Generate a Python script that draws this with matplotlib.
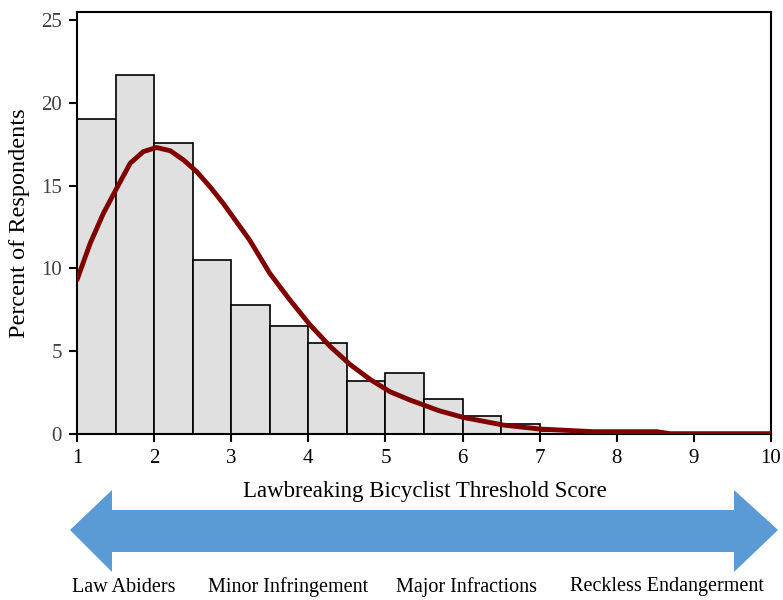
import matplotlib.pyplot as plt
from matplotlib.patches import Polygon

# histogram bins (left edges, width 0.5) and percent of respondents
bin_left = [1.0, 1.5, 2.0, 2.5, 3.0, 3.5, 4.0, 4.5, 5.0, 5.5, 6.0, 6.5, 7.0, 7.5]
percent = [19.0, 21.7, 17.6, 10.5, 7.8, 6.5, 5.5, 3.2, 3.7, 2.1, 1.1, 0.6, 0.2, 0.1]

# fitted curve
curve_x = [1.0, 1.17, 1.34, 1.51, 1.69, 1.86, 2.03, 2.21, 2.38, 2.55, 2.73, 2.90,
           3.07, 3.24, 3.50, 3.76, 4.02, 4.28, 4.54, 4.80, 5.06, 5.32, 5.70,
           6.01, 6.53, 7.0, 7.7, 8.52, 8.69, 10.0]
curve_y = [9.3, 11.5, 13.3, 14.8, 16.35, 17.05, 17.3, 17.1, 16.55, 15.85, 14.9, 13.9,
           12.8, 11.7, 9.7, 8.1, 6.6, 5.3, 4.2, 3.3, 2.55, 2.05, 1.4,
           1.0, 0.54, 0.3, 0.14, 0.14, 0.02, 0.02]

x_ticks = [1, 2, 3, 4, 5, 6, 7, 8, 9, 10]
y_ticks = [0, 5, 10, 15, 20, 25]
scale_labels = ["Law Abiders", "Minor Infringement", "Major Infractions", "Reckless Endangerment"]
scale_label_px = [124, 288, 467, 667]

FONT = "Liberation Serif"
W, H = 783, 600

fig = plt.figure(figsize=(W / 100, H / 100), dpi=100)
ax = fig.add_axes([77 / W, 1 - 434 / H, (771 - 77) / W, (434 - 12) / H])

ax.bar(bin_left, percent, width=0.5, align="edge", color="#e0e0e0",
       edgecolor="black", linewidth=1.2, zorder=2)
ax.plot(curve_x, curve_y, color="#800000", linewidth=3.5, zorder=3,
        solid_capstyle="round", solid_joinstyle="round")

ax.set_xlim(1, 10)
ax.set_ylim(0, 25.48)
ax.set_xticks(x_ticks)
ax.set_yticks(y_ticks)
ax.set_xticklabels([str(t) for t in x_ticks], fontfamily=FONT, fontsize=15)
ax.set_yticklabels([str(t) for t in y_ticks], fontfamily=FONT, fontsize=15, color="#404040")
ax.tick_params(direction="out", length=6, width=1.5, pad=5)
for s in ax.spines.values():
    s.set_linewidth(1.5)

ax.set_ylabel("Percent of Respondents", fontfamily=FONT, fontsize=17.5, labelpad=8)

# x axis title sits above the arrow
fig.text(425 / W, 1 - 491 / H, "Lawbreaking Bicyclist Threshold Score",
         ha="center", va="center", fontfamily=FONT, fontsize=16.5)

# double-headed blue arrow
pts = [(70, 530), (112, 490), (112, 510), (734, 510), (734, 490), (778, 530),
       (734, 572), (734, 552), (112, 552), (112, 572)]
arrow = Polygon([(px / W, 1 - py / H) for px, py in pts], closed=True,
                transform=fig.transFigure, facecolor="#5b9bd5", edgecolor="none")
fig.patches.append(arrow)

for lab, px in zip(scale_labels, scale_label_px):
    fig.text(px / W, 1 - 587 / H, lab, ha="center", va="center",
             fontfamily=FONT, fontsize=14.5)

fig.savefig("out.png", dpi=100)
